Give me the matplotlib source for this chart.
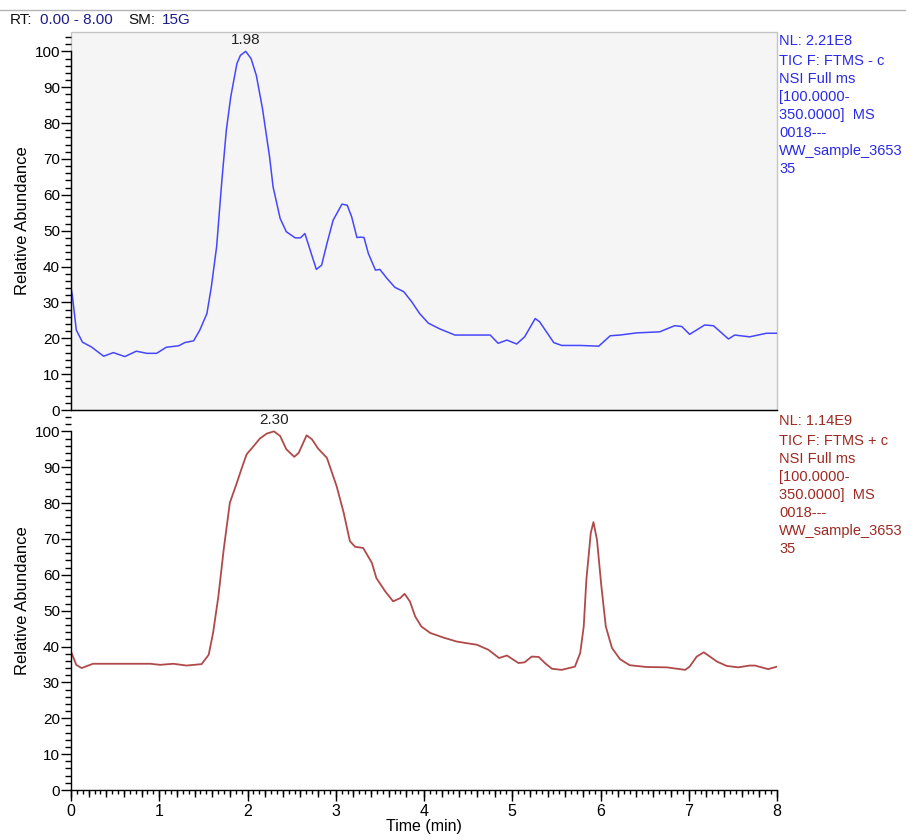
import matplotlib
matplotlib.use('Agg')
import matplotlib.pyplot as plt
from matplotlib.lines import Line2D
from matplotlib.patches import Rectangle
from matplotlib.ticker import MultipleLocator

NARROW = ['Liberation Sans Narrow', 'Liberation Sans', 'DejaVu Sans']
SANS = ['Liberation Sans', 'DejaVu Sans']

# negative mode TIC (top trace)
neg_time = [0.0, 0.015, 0.06, 0.13, 0.23, 0.37, 0.48, 0.61, 0.74, 0.86, 0.97, 1.08, 1.22,
            1.29, 1.39, 1.46, 1.54, 1.59, 1.65, 1.71, 1.76, 1.81, 1.88, 1.92, 1.98, 2.04,
            2.10, 2.17, 2.25, 2.29, 2.37, 2.44, 2.54, 2.60, 2.65, 2.71, 2.78, 2.84, 2.90,
            2.97, 3.07, 3.13, 3.18, 3.24, 3.28, 3.32, 3.37, 3.45, 3.50, 3.58, 3.67, 3.77,
            3.86, 3.95, 4.05, 4.18, 4.35, 4.52, 4.75, 4.84, 4.94, 5.05, 5.14, 5.26, 5.31,
            5.47, 5.56, 5.77, 5.98, 6.11, 6.22, 6.41, 6.67, 6.84, 6.92, 7.01, 7.18, 7.28,
            7.45, 7.52, 7.69, 7.88, 8.0]
neg_abund = [34.0, 32.0, 22.3, 18.9, 17.6, 15.0, 16.0, 14.9, 16.4, 15.8, 15.8, 17.5, 17.9,
             18.8, 19.3, 22.3, 26.9, 34.3, 45.5, 64.1, 78.0, 87.3, 96.6, 98.9, 100.0, 98.0,
             93.3, 84.0, 70.6, 62.2, 53.4, 49.7, 48.0, 48.0, 49.2, 44.6, 39.2, 40.4, 46.4,
             52.9, 57.4, 57.1, 53.9, 48.1, 48.2, 48.1, 43.6, 39.0, 39.2, 36.7, 34.2, 33.0,
             30.2, 26.9, 24.2, 22.6, 20.9, 20.9, 20.9, 18.6, 19.5, 18.4, 20.4, 25.5, 24.6,
             18.8, 18.0, 18.0, 17.8, 20.7, 20.9, 21.5, 21.8, 23.5, 23.3, 21.1, 23.7, 23.5,
             19.8, 20.9, 20.4, 21.4, 21.4]

# positive mode TIC (bottom trace)
pos_time = [0.0, 0.01, 0.06, 0.12, 0.25, 0.90, 1.01, 1.16, 1.31, 1.48, 1.56, 1.61, 1.67,
            1.73, 1.80, 1.88, 1.93, 1.99, 2.07, 2.14, 2.22, 2.30, 2.37, 2.44, 2.53, 2.58,
            2.67, 2.73, 2.80, 2.90, 3.01, 3.09, 3.16, 3.22, 3.31, 3.41, 3.46, 3.56, 3.65,
            3.73, 3.78, 3.84, 3.90, 3.97, 4.07, 4.22, 4.37, 4.52, 4.60, 4.73, 4.85, 4.94,
            5.07, 5.14, 5.22, 5.30, 5.37, 5.45, 5.56, 5.71, 5.77, 5.81, 5.84, 5.89, 5.92,
            5.96, 6.01, 6.06, 6.13, 6.22, 6.33, 6.52, 6.75, 6.96, 7.01, 7.09, 7.17, 7.24,
            7.32, 7.43, 7.56, 7.69, 7.75, 7.90, 8.0]
pos_abund = [38.5, 38.0, 34.9, 34.0, 35.2, 35.2, 34.9, 35.2, 34.7, 35.1, 37.7, 43.8, 54.0,
             67.0, 80.1, 85.7, 89.4, 93.6, 95.9, 98.0, 99.4, 100.0, 98.7, 95.0, 92.9, 94.0,
             98.9, 97.8, 95.2, 92.6, 84.7, 77.3, 69.4, 67.8, 67.5, 63.3, 59.1, 55.4, 52.6,
             53.5, 54.7, 52.6, 48.4, 45.6, 43.8, 42.5, 41.4, 40.8, 40.5, 39.1, 36.8, 37.5,
             35.4, 35.6, 37.2, 37.1, 35.4, 33.8, 33.5, 34.4, 38.2, 45.6, 58.7, 71.7, 74.7,
             69.8, 56.8, 45.6, 39.6, 36.5, 34.8, 34.3, 34.2, 33.5, 34.4, 37.2, 38.4, 37.2,
             35.8, 34.6, 34.2, 34.7, 34.7, 33.7, 34.4]

neg_info = ['NL: 2.21E8', 'TIC F: FTMS - c', 'NSI Full ms', '[100.0000-',
            '350.0000]  MS', '0018---', 'WW_sample_3653', '35']
pos_info = ['NL: 1.14E9', 'TIC F: FTMS + c', 'NSI Full ms', '[100.0000-',
            '350.0000]  MS', '0018---', 'WW_sample_3653', '35']

NEG_COLOR = '#4646ff'
NEG_TEXT = '#2a2ae6'
POS_COLOR = '#b04a4a'
POS_TEXT = '#9c2a22'


def style_axis(ax, show_x):
    ax.set_xlim(0, 8)
    ax.set_ylim(0, 105.4)
    for side in ['top', 'right']:
        ax.spines[side].set_visible(False)
    ax.spines['left'].set_bounds(0, 100)
    ax.spines['left'].set_linewidth(1.0)
    ax.spines['bottom'].set_linewidth(1.0)
    ax.yaxis.set_major_locator(MultipleLocator(10))
    ax.yaxis.set_minor_locator(MultipleLocator(2))
    ax.tick_params(axis='y', which='major', length=7, width=1, direction='out',
                   labelsize=11, pad=1)
    ax.tick_params(axis='y', which='minor', length=4, width=1, direction='out')
    for lbl in ax.get_yticklabels():
        lbl.set_family(NARROW)
    ax.set_ylabel('Relative Abundance', fontsize=12, family=SANS, labelpad=3)
    if show_x:
        ax.xaxis.set_major_locator(MultipleLocator(1))
        ax.xaxis.set_minor_locator(MultipleLocator(1 / 15))
        ax.tick_params(axis='x', which='major', length=8, width=1, direction='out',
                       labelsize=11.5, pad=2)
        ax.tick_params(axis='x', which='minor', length=3, width=1, direction='out')
        for lbl in ax.get_xticklabels():
            lbl.set_family(NARROW)
        # medium ticks every 0.2 min
        sec = ax.secondary_xaxis('bottom')
        sec.xaxis.set_major_locator(MultipleLocator(0.2))
        sec.tick_params(axis='x', which='major', length=5, width=1, direction='out',
                        labelbottom=False)
        sec.spines['bottom'].set_visible(False)
        ax.set_xlabel('Time (min)', fontsize=11.5, family=NARROW, labelpad=0)
    else:
        ax.tick_params(axis='x', which='both', length=0, labelbottom=False)


fig = plt.figure(figsize=(9.14, 8.40), dpi=100)
fig.patch.set_facecolor('white')

ax_top = fig.add_axes([71 / 914, 1 - 410 / 840, 706 / 914, 378 / 840])
ax_bot = fig.add_axes([71 / 914, 1 - 790 / 840, 706 / 914, 378 / 840])

ax_top.set_facecolor('#f5f5f5')
ax_top.add_patch(Rectangle((0, 0), 1, 1, transform=ax_top.transAxes, fill=False,
                           edgecolor='#c4c4c4', linewidth=1.0, clip_on=False, zorder=0.5))
ax_top.plot(neg_time, neg_abund, color=NEG_COLOR, linewidth=1.1)
ax_bot.plot(pos_time, pos_abund, color=POS_COLOR, linewidth=1.3)

style_axis(ax_top, show_x=False)
style_axis(ax_bot, show_x=True)

# base peak labels
top_i = neg_abund.index(max(neg_abund))
ax_top.annotate(f'{neg_time[top_i]:.2f}', (neg_time[top_i], neg_abund[top_i]),
                xytext=(0, 3), textcoords='offset points', ha='center', va='bottom',
                fontsize=11, family=SANS, color='#222222')
bot_i = pos_abund.index(max(pos_abund))
ax_bot.annotate(f'{pos_time[bot_i]:.2f}', (pos_time[bot_i], pos_abund[bot_i]),
                xytext=(0, 3), textcoords='offset points', ha='center', va='bottom',
                fontsize=11, family=SANS, color='#222222')

# side info text
for info, color, y0 in [(neg_info, NEG_TEXT, 41), (pos_info, POS_TEXT, 421)]:
    for i, line in enumerate(info):
        y = y0 + (0 if i == 0 else 20 + (i - 1) * 18)
        fig.text(779 / 914, 1 - y / 840, line, fontsize=10.5, family=SANS,
                 color=color, ha='left', va='center')

# header
fig.add_artist(Line2D([0, 905 / 914], [1 - 10 / 840, 1 - 10 / 840],
                      color='#b4b4b4', linewidth=1.0))
fig.text(10 / 914, 1 - 20 / 840, 'RT:', fontsize=11, family=SANS, color='#111111',
         ha='left', va='center')
fig.text(40 / 914, 1 - 20 / 840, '0.00 - 8.00', fontsize=11, family=SANS,
         color='#1c1c8c', ha='left', va='center')
fig.text(128 / 914, 1 - 20 / 840, 'SM:', fontsize=11, family=SANS, color='#111111',
         ha='left', va='center')
fig.text(162 / 914, 1 - 20 / 840, '15G', fontsize=11, family=SANS, color='#1c1c8c',
         ha='left', va='center')

fig.savefig('out.png', dpi=100, facecolor='white')
